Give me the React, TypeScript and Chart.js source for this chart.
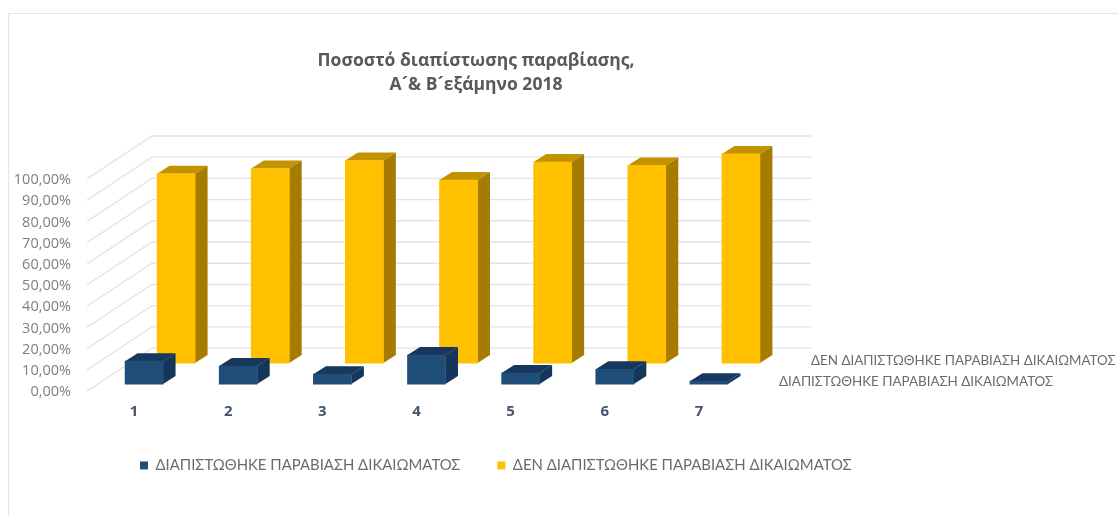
import React, { useEffect, useRef } from "react";
import { Chart, registerables } from "chart.js";

Chart.register(...registerables);

const categories = ["1", "2", "3", "4", "5", "6", "7"];
const violationFound = [10.8, 8.5, 4.7, 13.7, 5.2, 7.0, 1.4];
const noViolationFound = [89.2, 91.7, 95.5, 86.3, 94.8, 93.2, 98.6];
const titleLines = ["Ποσοστό διαπίστωσης παραβίασης,", "Α´& Β´εξάμηνο 2018"];
const seriesNames = ["ΔΙΑΠΙΣΤΩΘΗΚΕ ΠΑΡΑΒΙΑΣΗ ΔΙΚΑΙΩΜΑΤΟΣ", "ΔΕΝ ΔΙΑΠΙΣΤΩΘΗΚΕ ΠΑΡΑΒΙΑΣΗ ΔΙΚΑΙΩΜΑΤΟΣ"];

const WALL = { dx: 65, dy: -43 };
const BAR_DEPTH = { dx: 12.5, dy: -8 };
const OFFSETS = [
  { dx: 10, dy: -7, top: "#17375e", side: "#14365a" },
  { dx: 42, dy: -28, top: "#c29200", side: "#a67c00" },
];

const threeD = {
  id: "threeD",
  beforeDraw(chart: any) {
    const { ctx } = chart;
    ctx.save();
    ctx.strokeStyle = "#e3e3e3";
    ctx.lineWidth = 1;
    ctx.beginPath();
    ctx.moveTo(8.5, 516);
    ctx.lineTo(8.5, 13.5);
    ctx.lineTo(1118, 13.5);
    ctx.stroke();
    ctx.restore();

    if (chart.titleBlock) {
      chart.titleBlock.left = 0;
      chart.titleBlock.right = 952;
    }
    if (chart.legend) {
      const h = chart.legend.bottom - chart.legend.top;
      chart.legend.left = 140 - 37;
      chart.legend.right = 1118;
      chart.legend.top = 421;
      chart.legend.bottom = 421 + h;
    }
    const yScale = chart.scales.y;
    if (!yScale.__shifted) {
      yScale.__shifted = true;
      const drawLabels = yScale.drawLabels;
      yScale.drawLabels = function (area: any) {
        ctx.save();
        ctx.translate(0, 1);
        drawLabels.call(yScale, area);
        ctx.restore();
      };
    }
  },
  beforeDatasetsDraw(chart: any) {
    const { ctx, chartArea, scales } = chart;
    ctx.save();
    ctx.strokeStyle = "#e4e4e4";
    ctx.lineWidth = 1.4;
    scales.y.ticks.forEach((t: any) => {
      const y = scales.y.getPixelForValue(t.value);
      ctx.beginPath();
      ctx.moveTo(chartArea.left, y);
      ctx.lineTo(chartArea.left + WALL.dx, y + WALL.dy);
      ctx.lineTo(chartArea.right + WALL.dx, y + WALL.dy);
      ctx.stroke();
    });
    ctx.restore();
  },
  beforeDatasetDraw(chart: any, args: any) {
    const { ctx } = chart;
    const o = OFFSETS[args.index];
    ctx.save();
    ctx.translate(o.dx, o.dy);
    const meta = chart.getDatasetMeta(args.index);
    const { dx, dy } = BAR_DEPTH;
    meta.data.forEach((el: any) => {
      const l = el.x - el.width / 2;
      const r = el.x + el.width / 2;
      ctx.fillStyle = o.top;
      ctx.beginPath();
      ctx.moveTo(l, el.y);
      ctx.lineTo(l + dx, el.y + dy);
      ctx.lineTo(r + dx, el.y + dy);
      ctx.lineTo(r, el.y);
      ctx.closePath();
      ctx.fill();
      ctx.fillStyle = o.side;
      ctx.beginPath();
      ctx.moveTo(r, el.y);
      ctx.lineTo(r + dx, el.y + dy);
      ctx.lineTo(r + dx, el.base + dy);
      ctx.lineTo(r, el.base);
      ctx.closePath();
      ctx.fill();
    });
  },
  afterDatasetDraw(chart: any) {
    chart.ctx.restore();
  },
  afterDraw(chart: any) {
    const { ctx, chartArea, scales } = chart;
    const y0 = scales.y.getPixelForValue(0);
    ctx.save();
    ctx.font = "13.4px Lato";
    ctx.fillStyle = "#6b6b6b";
    ctx.textBaseline = "middle";
    ctx.fillText(seriesNames[1], chartArea.right + 65, y0 - 30);
    ctx.fillText(seriesNames[0], chartArea.right + 33, y0 - 9);
    ctx.restore();
  },
};

export default function App() {
  const ref = useRef<HTMLCanvasElement>(null);
  useEffect(() => {
    const chart = new Chart(ref.current as HTMLCanvasElement, {
      type: "bar",
      data: {
        labels: categories,
        datasets: [
          { label: seriesNames[0], data: violationFound, backgroundColor: "#1f4e79", barThickness: 38, grouped: false, clip: false },
          { label: seriesNames[1], data: noViolationFound, backgroundColor: "#ffc000", barThickness: 38, grouped: false, clip: false },
        ] as any,
      },
      options: {
        animation: false,
        responsive: false,
        layout: { padding: { left: 0, right: 0, top: 0, bottom: 22 } },
        scales: {
          x: {
            grid: { display: false },
            border: { display: false },
            ticks: { color: "#44546a", font: { family: "Open Sans", size: 15, weight: "bold" }, padding: 4 },
            afterFit: (s: any) => { s.height = 41; },
          },
          y: {
            min: 0,
            max: 100,
            grid: { display: false, drawTicks: false },
            border: { display: false },
            ticks: {
              stepSize: 10,
              padding: 16,
              color: "#7f7f7f",
              font: { family: "Open Sans", size: 14.5 },
              callback: (v: any) => Number(v).toFixed(2).replace(".", ",") + "%",
            },
            afterFit: (s: any) => { s.width = 87; },
          },
          spacer: {
            axis: "y",
            position: "right",
            grid: { display: false, drawTicks: false },
            border: { display: false },
            ticks: { display: false },
            afterFit: (s: any) => { s.width = 372; },
          },
        },
        plugins: {
          title: {
            display: true,
            text: titleLines,
            color: "#595959",
            font: { family: "Open Sans", size: 17.5, weight: "bold", lineHeight: 1.37 },
            padding: { top: 49, bottom: 82 },
          },
          legend: {
            display: true,
            position: "bottom",
            align: "start",
            labels: {
              boxWidth: 8,
              boxHeight: 8,
              padding: 37,
              color: "#6b6b6b",
              font: { family: "Lato", size: 14.9 },
            },
          },
          tooltip: { enabled: false },
        },
      } as any,
      plugins: [threeD],
    });
    return () => chart.destroy();
  }, []);
  return (
    <div style={{ position: "absolute", left: 0, top: 0, width: 1118, height: 516, background: "#fff" }}>
      <canvas ref={ref} width={1118} height={516} style={{ display: "block" }} />
    </div>
  );
}
